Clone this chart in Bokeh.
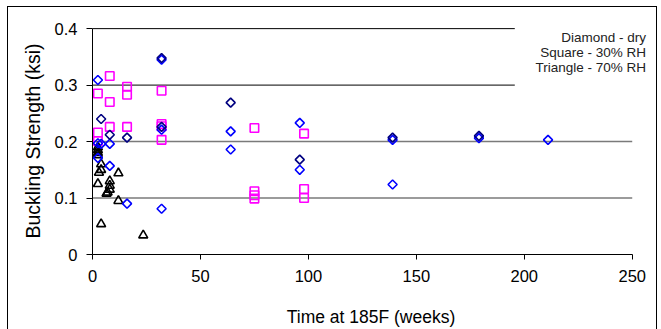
import numpy as np
from bokeh.plotting import figure
from bokeh.models import Range1d, FixedTicker, BoxAnnotation, Label
from bokeh.embed import file_html
from bokeh.resources import INLINE

# ---- data (weeks at 185F, buckling strength ksi) ----
dry_a_x = [4, 8, 16, 32, 32, 64, 96, 139, 179]
dry_a_y = [0.240, 0.212, 0.207, 0.348, 0.226, 0.269, 0.168, 0.207, 0.210]

dry_b_x = [2.5, 2.5, 2.5, 4, 8, 8, 16, 32, 32, 32, 64, 64, 96, 96, 139, 139, 179, 211]
dry_b_y = [0.309, 0.197, 0.171, 0.196, 0.196, 0.157, 0.090, 0.345, 0.221, 0.081,
           0.218, 0.186, 0.233, 0.150, 0.203, 0.124, 0.206, 0.203]

rh30_x = [2.5, 2.5, 2.5, 8, 8, 8, 16, 16, 16, 32, 32, 32, 32, 75, 75, 75, 75, 98, 98, 98]
rh30_y = [0.285, 0.216, 0.201, 0.316, 0.270, 0.226, 0.297, 0.283, 0.226, 0.290,
          0.231, 0.227, 0.203, 0.224, 0.112, 0.105, 0.099, 0.214, 0.116, 0.100]

rh70_x = [2.5, 2.5, 2.5, 2.5, 2.5, 4, 4, 3, 12, 8, 8, 7, 6.5, 8, 12, 4, 23.5]
rh70_y = [0.190, 0.185, 0.180, 0.176, 0.125, 0.160, 0.150, 0.145, 0.144, 0.130,
          0.122, 0.110, 0.108, 0.115, 0.095, 0.054, 0.034]

x_ticks = [0, 50, 100, 150, 200, 250]
y_ticks = [0, 0.1, 0.2, 0.3, 0.4]
y_tick_labels = ["0", "0.1", "0.2", "0.3", "0.4"]
grid_light = [0.1, 0.2]
grid_dark = [0.3, 0.4]
notes = ["Diamond - dry", "Square - 30% RH", "Triangle - 70% RH"]

FONT = "Liberation Sans"

p = figure(width=658, height=329, x_range=Range1d(0, 258), y_range=Range1d(0, 0.402),
           output_backend="svg", toolbar_location=None,
           min_border_left=92, min_border_right=9, min_border_top=27, min_border_bottom=73)
p.styles = {
    "background": ("linear-gradient(#000,#000) 7px 6px / 1px 340px no-repeat, "
                   "linear-gradient(#000,#000) 7px 6px / 650px 1px no-repeat, "
                   "linear-gradient(#000,#000) 656px 6px / 1px 340px no-repeat, #ffffff"),
}
p.outline_line_color = None
p.xgrid.visible = False
p.ygrid.visible = False
p.background_fill_color = "white"
p.border_fill_alpha = 0

# horizontal gridlines spanning the axis extent
x_lo, x_hi = x_ticks[0], x_ticks[-1]
p.segment(x0=x_lo, x1=x_hi, y0=grid_light, y1=grid_light, line_color="#7a7a7a", line_width=1.4)
p.segment(x0=x_lo, x1=x_hi, y0=grid_dark, y1=grid_dark, line_color="#000000", line_width=1)

# markers
p.scatter(rh30_x, rh30_y, marker="square", size=8.5, fill_color=None,
          line_color="#FF00FF", line_width=1.6)
p.scatter(rh70_x, rh70_y, marker="triangle", size=9, fill_color=None,
          line_color="black", line_width=1.6)
p.scatter(dry_b_x, dry_b_y, marker="square", angle=np.pi / 4, size=6.4, fill_color=None,
          line_color="#0000FF", line_width=1.6)
p.scatter(dry_a_x, dry_a_y, marker="square", angle=np.pi / 4, size=6.4, fill_color=None,
          line_color="#000080", line_width=1.6)

# white note box hiding upper gridlines on the right
p.add_layout(BoxAnnotation(left=195.6, right=270, bottom=0.25, top=0.45,
                           fill_color="white", fill_alpha=1, line_color=None))

# axes
for ax in (p.xaxis[0], p.yaxis[0]):
    ax.axis_line_color = "black"
    ax.major_tick_line_color = "black"
    ax.minor_tick_line_color = None
    ax.major_tick_in = 0
    ax.major_tick_out = 5
    ax.major_label_text_font = FONT
    ax.major_label_text_font_size = "16.5px"
    ax.major_label_text_color = "black"
    ax.axis_label_text_font = FONT
    ax.axis_label_text_font_style = "normal"
    ax.axis_label_text_color = "black"

p.xaxis.ticker = FixedTicker(ticks=x_ticks)
p.yaxis.ticker = FixedTicker(ticks=y_ticks)
p.xaxis.bounds = (x_ticks[0], x_ticks[-1])
p.yaxis.bounds = (y_ticks[0], y_ticks[-1])
p.yaxis.major_label_overrides = dict(zip(y_ticks, y_tick_labels))
p.xaxis.major_label_standoff = 10
p.yaxis.major_label_standoff = 9
p.yaxis.major_tick_out = 6
p.xaxis.axis_label = "Time at 185F (weeks)"
p.yaxis.axis_label = "Buckling Strength (ksi)"
p.xaxis.axis_label_text_font_size = "17.5px"
p.yaxis.axis_label_text_font_size = "19.5px"
p.xaxis.axis_label_standoff = 22
p.yaxis.axis_label_standoff = 8

# notes
for i, t in enumerate(notes):
    p.add_layout(Label(x=256.4, y=0.3847 - 0.0265 * i, text=t, text_align="right",
                       text_baseline="alphabetic", text_font=FONT, text_font_size="13.5px",
                       text_color="#222222"))

open("out.html", "w").write(file_html(p, INLINE))
